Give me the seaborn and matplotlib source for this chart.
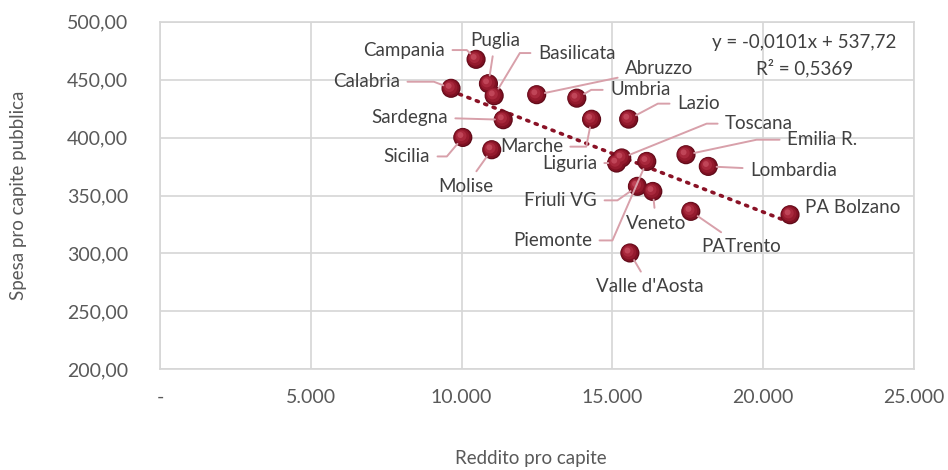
import numpy as np
import pandas as pd
import matplotlib
matplotlib.use("Agg")
import matplotlib.pyplot as plt
import matplotlib.transforms as mtransforms
from matplotlib.ticker import FuncFormatter, MultipleLocator
import seaborn as sns

# ---------------- data ----------------
regioni = ["Campania", "Calabria", "Puglia", "Basilicata", "Sardegna", "Abruzzo",
           "Umbria", "Marche", "Sicilia", "Molise", "Lazio", "Liguria", "Toscana",
           "Piemonte", "Friuli VG", "Veneto", "Emilia R.", "Lombardia",
           "PA Bolzano", "PATrento", "Valle d'Aosta"]
reddito = [10480, 9650, 10890, 11080, 11380, 12490,
           13820, 14310, 10040, 11000, 15540, 15140, 15310,
           16140, 15830, 16340, 17440, 18180,
           20890, 17600, 15580]
spesa = [467.5, 442.5, 446.5, 436.1, 415.4, 437.0,
         434.0, 415.8, 400.1, 389.5, 415.9, 378.0, 382.4,
         379.4, 357.9, 353.5, 385.2, 375.1,
         333.4, 336.3, 300.4]
trend_slope = -0.0101
trend_intercept = 537.72
trend_r2 = 0.5369
x_label = "Reddito pro capite"
y_label = "Spesa pro capite pubblica"

df = pd.DataFrame({"regione": regioni, "reddito": reddito, "spesa": spesa})

# ---------------- label layout (offset pixels from point, ha, leader) ----------------
# leader: None = no line, "s" = straight, number = angleB for horizontal-then-diagonal
label_layout = {
    "Campania":     (-31, 9.3, "right", 135),
    "Puglia":       (6.7, 43.3, "center", "s"),
    "Basilicata":   (43.7, 42.7, "left", 59),
    "Calabria":     (-51, 6.6, "right", 159),
    "Abruzzo":      (88.3, 25.7, "left", "s"),
    "Umbria":       (33.3, 8.3, "left", 30),
    "Lazio":        (48.3, 15.5, "left", 28),
    "Sardegna":     (-55.3, 2.7, "right", "s"),
    "Sicilia":      (-32.7, -19, "right", 50),
    "Marche":       (-28.7, -27.4, "right", 79),
    "Liguria":      (-19.7, 0, "right", "s"),
    "Toscana":      (103.3, 34.3, "left", 22),
    "Piemonte":     (-54.7, -79, "right", 66.5),
    "Friuli VG":    (-40.3, -14, "right", 35),
    "Veneto":       (3.3, -32.3, "center", "s"),
    "Emilia R.":    (101, 15, "left", 12),
    "Lombardia":    (41.7, -4, "left", "s"),
    "PA Bolzano":   (15, 7, "left", None),
    "PATrento":     (50.8, -35, "center", "s"),
    "Valle d'Aosta": (20, -34, "center", "s"),
    "Molise":       (-26.2, -36.7, "center", "s"),
}

# ---------------- figure ----------------
sns.set_theme(style="white")
plt.rcParams["font.family"] = ["Lato", "DejaVu Sans"]

W, H = 948, 470
fig = plt.figure(figsize=(W / 100, H / 100), dpi=100)
fig.patch.set_facecolor("white")
ax = fig.add_axes([160 / W, 1 - 369.3 / H, 754 / W, 347.6 / H])
ax.set_facecolor("white")

ax.set_xlim(0, 25000)
ax.set_ylim(200, 500)
ax.xaxis.set_major_locator(MultipleLocator(5000))
ax.yaxis.set_major_locator(MultipleLocator(50))

def fmt_x(v, pos):
    if abs(v) < 1e-9:
        return "-"
    return f"{int(round(v)):,}".replace(",", ".")

def fmt_y(v, pos):
    return f"{v:.2f}".replace(".", ",")

ax.xaxis.set_major_formatter(FuncFormatter(fmt_x))
ax.yaxis.set_major_formatter(FuncFormatter(fmt_y))

grid_c = "#d6d6d6"
ax.grid(True, color=grid_c, linewidth=1.2)
for sp in ax.spines.values():
    sp.set_color(grid_c)
    sp.set_linewidth(1.2)
ax.tick_params(axis="both", length=0, colors="#595959", labelsize=14)
ax.tick_params(axis="y", pad=23)
ax.tick_params(axis="x", pad=14)
ax.set_axisbelow(True)

# trend line (dotted)
xt = np.array([df["reddito"].min(), df["reddito"].max()])
yt = trend_slope * xt + trend_intercept
ax.plot(xt, yt, color="#8a1226", linewidth=2.6,
        linestyle=(0, (0.6, 1.9)), dash_capstyle="round", zorder=3)

# points: layered to mimic shaded spheres
layers = [(190, "#5e0a18", 0, 0),
          (158, "#7e1022", -0.3, 0.3),
          (108, "#941a2d", -0.8, 0.8),
          (58, "#a8283c", -1.6, 1.6),
          (18, "#c04558", -2.4, 2.4)]
for s, c, dx, dy in layers:
    off = mtransforms.offset_copy(ax.transData, fig=fig, x=dx, y=dy, units="dots")
    sns.scatterplot(data=df, x="reddito", y="spesa", ax=ax, s=s, color=c,
                    edgecolor="none", linewidth=0, legend=False, zorder=5,
                    transform=off)
ax.set_xlabel(x_label, fontsize=13.5, color="#595959")
ax.set_ylabel(y_label, fontsize=13.5, color="#595959")
ax.xaxis.set_label_coords(0.492, -0.232)
ax.yaxis.set_label_coords(-0.176, 0.5)

# labels with leader lines
line_c = "#d8a0aa"
for reg, xv, yv in zip(regioni, reddito, spesa):
    dx, dy, ha, lead = label_layout[reg]
    kw = dict(xy=(xv, yv), xytext=(dx, dy), textcoords="offset pixels",
              ha=ha, va="center", fontsize=13.5, color="#404040", zorder=6)
    if lead is None:
        ax.annotate(reg, **kw)
    elif lead == "s":
        ax.annotate(reg, arrowprops=dict(arrowstyle="-", color=line_c, lw=1.4,
                                         shrinkA=3, shrinkB=6,
                                         connectionstyle="arc3,rad=0"), **kw)
    else:
        ax.annotate(reg, arrowprops=dict(arrowstyle="-", color=line_c, lw=1.4,
                                         shrinkA=3, shrinkB=6,
                                         connectionstyle=f"angle,angleA=0,angleB={lead},rad=0"),
                    **kw)

# equation
eq = f"y = {trend_slope:.4f}x + {trend_intercept:.2f}".replace(".", ",")
r2 = f"R² = {trend_r2:.4f}".replace(".", ",")
ax.text(0.855, 0.939, eq, transform=ax.transAxes, ha="center", va="center",
        fontsize=13.5, color="#404040")
ax.text(0.855, 0.867, r2, transform=ax.transAxes, ha="center", va="center",
        fontsize=13.5, color="#404040")

fig.savefig("out.png", dpi=100, facecolor="white")
